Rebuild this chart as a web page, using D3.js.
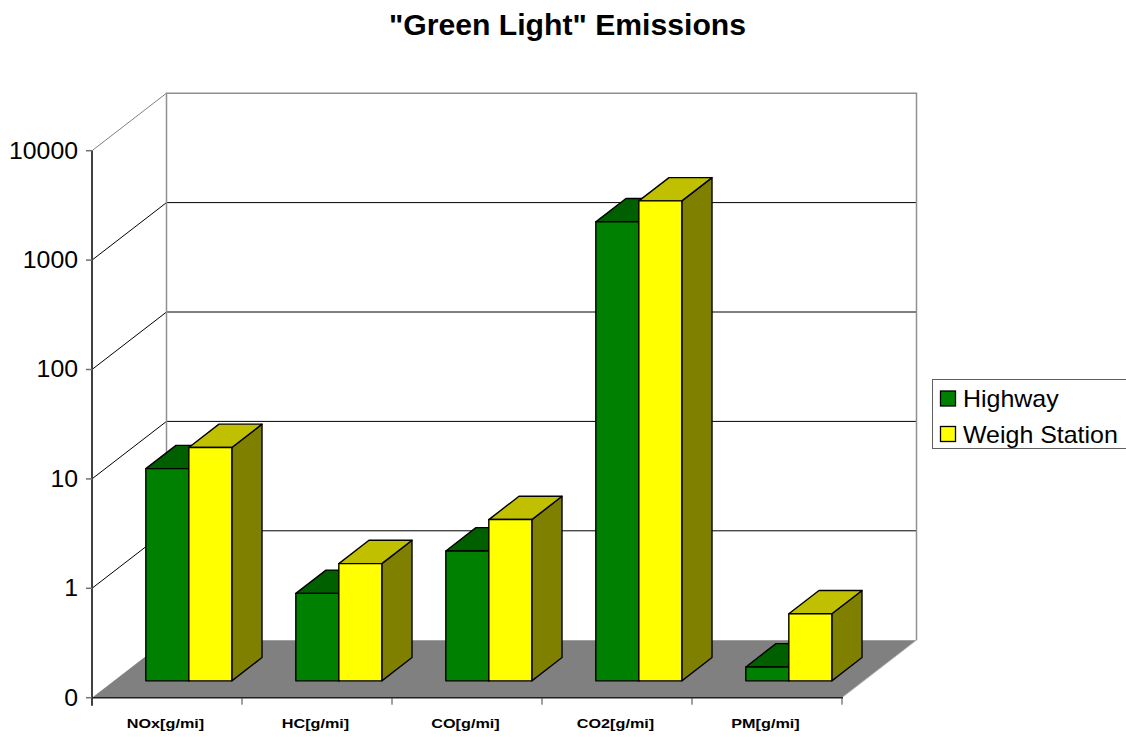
<!DOCTYPE html>
<html>
<head>
<meta charset="utf-8">
<script src="https://cdn.jsdelivr.net/npm/d3@7"></script>
<style>
  html, body { margin: 0; padding: 0; background: #fff; }
  svg { display: block; }
  text { font-family: "Liberation Sans", Arial, sans-serif; fill: #000; }
</style>
</head>
<body>
<svg id="chart" width="1126" height="737"></svg>
<script>
// Emission measurements per pollutant, two test conditions
const categories = ["NOx[g/mi]", "HC[g/mi]", "CO[g/mi]", "CO2[g/mi]", "PM[g/mi]"];
const seriesNames = ["Highway", "Weigh Station"];
const highway = [8.7, 0.63, 1.54, 1570, 0.134];
const weighStation = [13.6, 1.18, 2.98, 2440, 0.41];
const tickValues = [0.1, 1, 10, 100, 1000, 10000];
const tickLabels = ["0", "1", "10", "100", "1000", "10000"];
const chartTitle = "\"Green Light\" Emissions";

(function () {
const seriesValues = [highway, weighStation];
const seriesColors = [
  { front: "#008000", top: "#006000", side: "#004000" },
  { front: "#ffff00", top: "#c0c000", side: "#808000" }
];

const svg = d3.select("#chart");

// Front plane of the 3D box and the depth offset of the back wall
const plotLeft = 92, plotRight = 842, plotTop = 150.7, plotBottom = 697.7;
const depthX = 74.5, depthY = -57.5;
const zFront = 0.293, zBack = 0.698;

const x = d3.scaleBand().domain(categories).range([plotLeft, plotRight]).padding(0);
const xs = d3.scaleBand().domain(seriesNames).range([0, x.bandwidth()])
  .paddingInner(0).paddingOuter(0.744);
const y = d3.scaleLog().domain([0.1, 10000]).range([plotBottom, plotTop]);

const P = (px, py, z) => [px + z * depthX, py + z * depthY];
const poly = pts => "M" + pts.map(p => p.join(",")).join("L") + "Z";
const line = pts => "M" + pts.map(p => p.join(",")).join("L");

// Text with optional horizontal stretch
function label(g, txt, tx, ty, opts) {
  return g.append("text")
    .attr("transform", `translate(${tx},${ty}) scale(${opts.sx},1)`)
    .attr("text-anchor", opts.anchor || "start")
    .style("font-size", opts.size + "px")
    .style("font-weight", opts.weight || "normal")
    .text(txt);
}

// Floor
svg.append("path")
  .attr("d", poly([P(plotLeft, plotBottom, 0), P(plotLeft, plotBottom, 1), P(plotRight, plotBottom, 1), P(plotRight, plotBottom, 0)]))
  .attr("fill", "#808080").attr("stroke", "none");
svg.append("path")
  .attr("d", line([P(plotRight, plotBottom, 0), P(plotRight, plotBottom, 1)]))
  .attr("stroke", "#c0c0c0").attr("stroke-width", 1).attr("fill", "none");

// Back wall gridlines and side-wall diagonals
tickValues.forEach((t, i) => {
  const yy = y(t);
  const isTop = i === tickValues.length - 1;
  if (i > 0 && !isTop) {
    svg.append("path")
      .attr("d", line([P(plotLeft, yy, 1), P(plotRight, yy, 1)]))
      .attr("stroke", "#000").attr("stroke-width", 1).attr("fill", "none");
  }
  if (i > 0) {
    svg.append("path")
      .attr("d", line([P(plotLeft, yy, 0), P(plotLeft, yy, 1)]))
      .attr("stroke", isTop ? "#808080" : "#000").attr("stroke-width", 1).attr("fill", "none");
  }
});
// Back wall outline
svg.append("path")
  .attr("d", line([P(plotLeft, plotBottom, 1), P(plotLeft, plotTop, 1), P(plotRight, plotTop, 1), P(plotRight, plotBottom, 1)]))
  .attr("stroke", "#909090").attr("stroke-width", 1.5).attr("fill", "none");

// Bars
const barBase = 0.1;
categories.forEach((cat, ci) => {
  seriesNames.forEach((s, si) => {
    const v = seriesValues[si][ci];
    const x0 = x(cat) + xs(s), x1 = x0 + xs.bandwidth();
    const y0 = y(barBase), y1 = y(v);
    const c = seriesColors[si];
    const g = svg.append("g").attr("stroke", "#000").attr("stroke-width", 1.4)
      .attr("stroke-linejoin", "round");
    g.append("path").attr("fill", c.side)
      .attr("d", poly([P(x1, y1, zFront), P(x1, y1, zBack), P(x1, y0, zBack), P(x1, y0, zFront)]));
    g.append("path").attr("fill", c.top)
      .attr("d", poly([P(x0, y1, zFront), P(x0, y1, zBack), P(x1, y1, zBack), P(x1, y1, zFront)]));
    g.append("path").attr("fill", c.front)
      .attr("d", poly([P(x0, y1, zFront), P(x1, y1, zFront), P(x1, y0, zFront), P(x0, y0, zFront)]));
  });
});

// Value axis (front left)
svg.append("line").attr("x1", plotLeft).attr("x2", plotLeft).attr("y1", plotTop).attr("y2", plotBottom + 8)
  .attr("stroke", "#404040").attr("stroke-width", 2);
tickValues.forEach((t, i) => {
  const yy = y(t);
  svg.append("line").attr("x1", plotLeft - 6).attr("x2", plotLeft).attr("y1", yy).attr("y2", yy)
    .attr("stroke", "#707070").attr("stroke-width", 1.5);
  label(svg, tickLabels[i], 78, yy + 7.8, { sx: 1.08, size: 23, anchor: "end" });
});

// Category axis
svg.append("line").attr("x1", plotLeft).attr("x2", plotRight + 1).attr("y1", plotBottom).attr("y2", plotBottom)
  .attr("stroke", "#202020").attr("stroke-width", 1.5);
categories.forEach((cat) => {
  const xx = x(cat) + x.bandwidth();
  svg.append("line").attr("x1", xx).attr("x2", xx).attr("y1", plotBottom).attr("y2", plotBottom + 7)
    .attr("stroke", "#404040").attr("stroke-width", 1);
  label(svg, cat, x(cat) + x.bandwidth() / 2 - 1.5, 727.5, { sx: 1.2, size: 13.5, weight: "bold", anchor: "middle" });
});

// Title
label(svg, chartTitle, 567.5, 35, { sx: 1.04, size: 29, weight: "bold", anchor: "middle" });

// Legend
const lg = svg.append("g");
lg.append("rect").attr("x", 932.5).attr("y", 379.5).attr("width", 200).attr("height", 69)
  .attr("fill", "#fff").attr("stroke", "#606060").attr("stroke-width", 1);
seriesNames.forEach((s, si) => {
  const yy = 391 + si * 35.5;
  lg.append("rect").attr("x", 940.5).attr("y", yy).attr("width", 15).attr("height", 15)
    .attr("fill", seriesColors[si].front).attr("stroke", "#000").attr("stroke-width", 1.3);
  label(lg, s, 963, yy + 16, { sx: 1.04, size: 24, anchor: "start" });
});
})();
</script>
</body>
</html>
